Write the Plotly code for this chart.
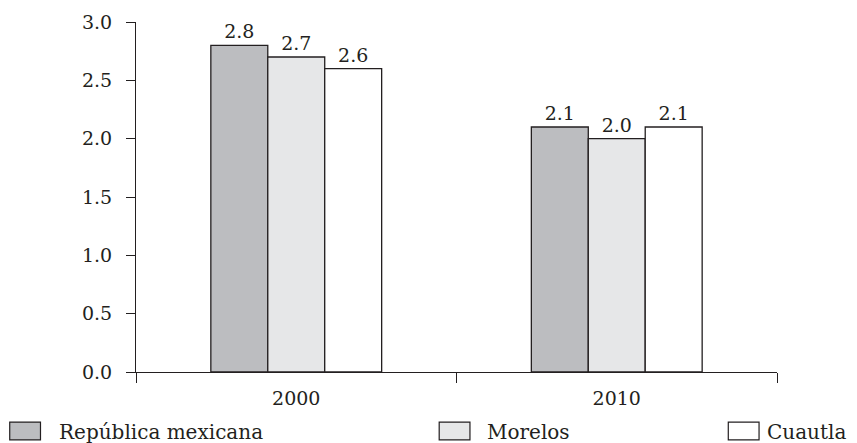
import plotly.graph_objects as go

# Tasa de fecundidad por año y ámbito
years = ["2000", "2010"]
series_names = ["República mexicana", "Morelos", "Cuautla"]
series_values = [
    [2.8, 2.1],
    [2.7, 2.0],
    [2.6, 2.1],
]
series_colors = ["#bcbdc0", "#e6e7e8", "#ffffff"]
y_ticks = [0.0, 0.5, 1.0, 1.5, 2.0, 2.5, 3.0]

FONT = "DejaVu Serif"
TXT = "#231f20"

fig = go.Figure()
for name, vals, color in zip(series_names, series_values, series_colors):
    fig.add_trace(go.Bar(
        x=years, y=vals, name=name,
        marker=dict(color=color, line=dict(color="#231f20", width=1.3)),
        text=[f"{v:.1f}" for v in vals], textposition="outside",
        textfont=dict(family=FONT, size=19, color=TXT),
        cliponaxis=False, showlegend=False,
    ))

# Legend drawn as boxes plus labels along the bottom
legend_box_x = [-0.197, 0.473, 0.924]
legend_text_x = [-0.123, 0.5445, 0.9813]
for name, color, bx, tx in zip(series_names, series_colors, legend_box_x, legend_text_x):
    fig.add_shape(type="rect", xref="paper", yref="paper",
                  x0=bx, x1=bx + 0.048, y0=-0.194, y1=-0.143,
                  fillcolor=color, line=dict(color="#231f20", width=1.2))
    fig.add_annotation(x=tx, y=-0.172, xref="paper", yref="paper",
                       text=name, showarrow=False, xanchor="left", yanchor="middle",
                       font=dict(family=FONT, size=20, color=TXT))

fig.update_layout(
    width=857, height=443,
    margin=dict(l=136, r=80, t=22, b=71),
    paper_bgcolor="white", plot_bgcolor="white",
    barmode="group", bargap=0.467, bargroupgap=0,
    font=dict(family=FONT, size=19, color=TXT),
)
fig.update_xaxes(
    type="category", showline=True, linecolor="#231f20", linewidth=1.2,
    ticks="outside", tickson="boundaries", ticklen=10, tickcolor="#231f20", tickwidth=1.2,
    showgrid=False, zeroline=False, ticklabelstandoff=9,
    tickfont=dict(family=FONT, size=19, color=TXT),
)
fig.update_yaxes(
    range=[0, 3.0], tickvals=y_ticks, ticktext=[f"{v:.1f}" for v in y_ticks],
    showline=True, linecolor="#231f20", linewidth=1.2,
    ticks="outside", ticklen=9, tickcolor="#231f20", tickwidth=1.2,
    showgrid=False, zeroline=False, ticklabelstandoff=10,
    tickfont=dict(family=FONT, size=19, color=TXT),
)

fig.write_html("out.html")
